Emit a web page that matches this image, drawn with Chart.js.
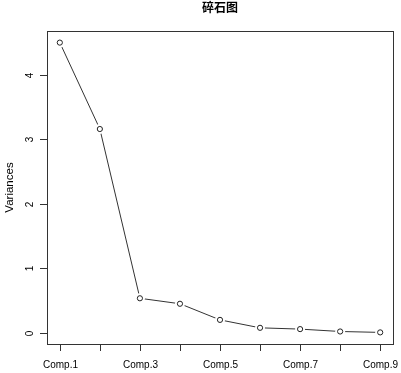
<!DOCTYPE html>
<html>
<head>
<meta charset="utf-8">
<script src="https://cdn.jsdelivr.net/npm/chart.js@4"></script>
<style>
  html, body { margin: 0; padding: 0; background: #fff; }
  #wrap { width: 401px; height: 373px; }
</style>
</head>
<body>
<div id="wrap"><canvas id="screeChart" width="401" height="373"></canvas></div>
<script>
// composantes et variances
const components = ['Comp.1', 'Comp.2', 'Comp.3', 'Comp.4', 'Comp.5', 'Comp.6', 'Comp.7', 'Comp.8', 'Comp.9'];
const variances = [4.50, 3.16, 0.535, 0.45, 0.20, 0.077, 0.057, 0.02, 0.006];
const yTicks = [0, 1, 2, 3, 4];
const chartTitle = '碎石图';
const yTitle = 'Variances';

const points = variances.map((v, i) => ({ x: i + 1, y: v }));

// cadre, axes et textes façon R
const rAxes = {
  id: 'rAxes',
  afterDatasetsDraw(chart) {
    const ctx = chart.ctx;
    const a = chart.chartArea;
    const xs = chart.scales.x, ys = chart.scales.y;
    ctx.save();
    ctx.strokeStyle = '#333';
    ctx.lineWidth = 1;
    ctx.strokeRect(Math.round(a.left) + 0.5, Math.round(a.top) + 0.5,
      Math.round(a.right - a.left), Math.round(a.bottom - a.top));

    // axe x
    ctx.fillStyle = '#000';
    ctx.font = '10px "Liberation Sans", Arial, sans-serif';
    ctx.textAlign = 'center';
    ctx.textBaseline = 'middle';
    components.forEach((c, i) => {
      const px = Math.round(xs.getPixelForValue(i + 1)) + 0.5;
      ctx.beginPath();
      ctx.moveTo(px, a.bottom);
      ctx.lineTo(px, a.bottom + 7);
      ctx.stroke();
      if (i % 2 === 0) ctx.fillText(c, px, a.bottom + 21);
    });

    // axe y (étiquettes verticales)
    yTicks.forEach(t => {
      const py = Math.round(ys.getPixelForValue(t)) + 0.5;
      ctx.beginPath();
      ctx.moveTo(a.left, py);
      ctx.lineTo(a.left - 7, py);
      ctx.stroke();
      ctx.save();
      ctx.translate(a.left - 17, py);
      ctx.rotate(-Math.PI / 2);
      ctx.fillText(String(t), 0, 0);
      ctx.restore();
    });

    ctx.save();
    ctx.font = '11.5px "Liberation Sans", Arial, sans-serif';
    ctx.translate(10, (a.top + a.bottom) / 2);
    ctx.rotate(-Math.PI / 2);
    ctx.fillText(yTitle, 0, 0);
    ctx.restore();

    ctx.font = 'bold 12px "Noto Sans CJK SC", sans-serif';
    ctx.fillText(chartTitle, (a.left + a.right) / 2, 7);
    ctx.restore();
  }
};

const screeChart = new Chart(document.getElementById('screeChart'), {
  type: 'line',
  data: {
    datasets: [{
      label: 'cercles',
      data: points,
      showLine: false,
      pointRadius: 2.6,
      pointBorderWidth: 1,
      pointBorderColor: '#222',
      pointBackgroundColor: 'rgba(0,0,0,0)',
      order: 0
    }, {
      label: 'trous',
      data: points,
      showLine: false,
      pointRadius: 5,
      pointBorderWidth: 0,
      pointBackgroundColor: '#fff',
      order: 1
    }, {
      label: 'Variances',
      data: points,
      borderColor: '#333',
      borderWidth: 1,
      pointRadius: 0,
      tension: 0,
      fill: false,
      order: 2
    }]
  },
  options: {
    responsive: false,
    animation: false,
    layout: { padding: { left: 47, right: 8, top: 31, bottom: 29 } },
    plugins: { legend: { display: false }, tooltip: { enabled: false } },
    scales: {
      x: { type: 'linear', min: 0.68, max: 9.32, display: false },
      y: { type: 'linear', min: -0.174, max: 4.68, display: false }
    }
  },
  plugins: [rAxes]
});
</script>
</body>
</html>
